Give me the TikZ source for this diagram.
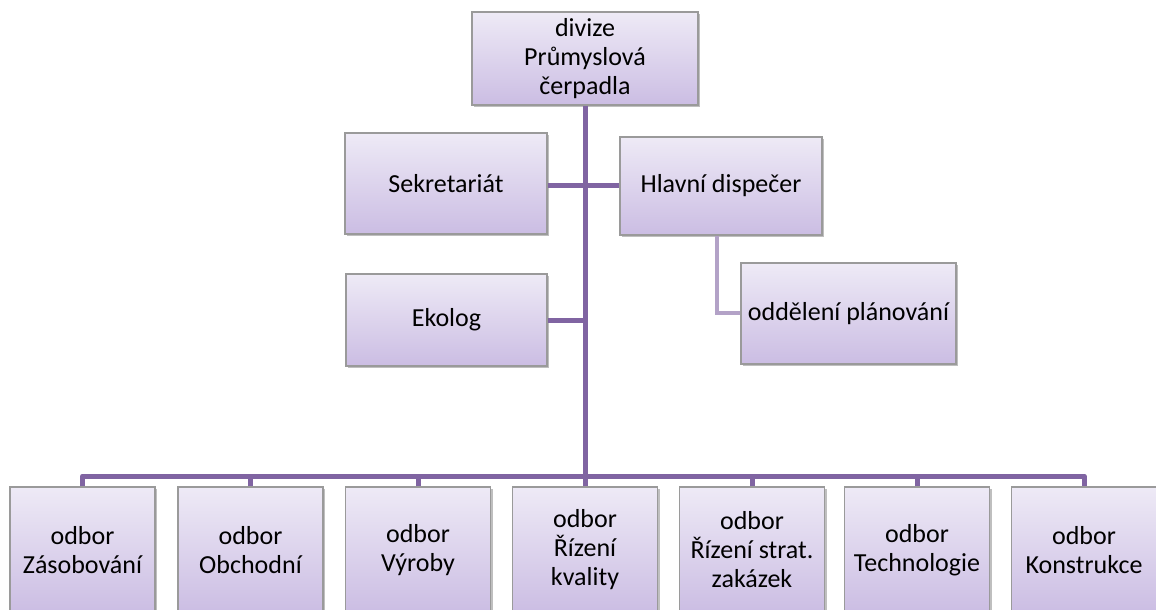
\documentclass[tikz,border=0pt]{standalone}
\usepackage{fontspec}
\setmainfont{Carlito}
\usetikzlibrary{shadows}
\definecolor{linec}{HTML}{8064A2}
\definecolor{linel}{HTML}{B3A2C7}
\definecolor{boxtop}{HTML}{EEEAF6}
\definecolor{boxbot}{HTML}{CBBDE3}
\definecolor{boxdraw}{HTML}{9A9A9A}
\tikzset{
  orgbox/.style={rectangle, draw=boxdraw, line width=1.2pt, top color=boxtop, bottom color=boxbot,
    align=center, inner sep=2pt, font=\fontsize{26}{29}\selectfont,
    drop shadow={shadow xshift=2pt, shadow yshift=-2pt, fill=black, opacity=0.25}},
  conn/.style={draw=linec, line width=5pt},
  connl/.style={draw=linel, line width=4pt},
}
\begin{document}
\begin{tikzpicture}[x=1pt,y=-1pt]
\useasboundingbox (0,0) rectangle (1156,610);
\begin{scope}
\clip (0,0) rectangle (1156,610);
\coordinate (cross) at (585,185);
\coordinate (eko) at (585,320);
\coordinate (bus) at (585,476);
\node[orgbox, minimum width=226pt, minimum height=93pt] (top) at (585,58.5) {divize\\Průmyslová\\čerpadla};
\node[orgbox, minimum width=202pt, minimum height=101pt] (sek) at (446,183.5) {Sekretariát};
\node[orgbox, minimum width=202pt, minimum height=98pt] (hd) at (721,186) {Hlavní dispečer};
\node[orgbox, minimum width=215pt, minimum height=101pt] (odd) at (848.5,313.5) {oddělení plánování};
\node[orgbox, minimum width=201pt, minimum height=92pt] (ek) at (446.5,320) {Ekolog};
\foreach \n/\cx/\t in {b1/82.5/{odbor\\Zásobování}, b2/250.5/{odbor\\Obchodní}, b3/418/{odbor\\Výroby},
  b4/585/{odbor\\Řízení\\kvality}, b5/752/{odbor\\Řízení strat.\\zakázek}, b6/917/{odbor\\Technologie}, b7/1084/{odbor\\Konstrukce}}
  \node[orgbox, minimum width=145pt, minimum height=126pt] (\n) at (\cx,550) {\t};
\end{scope}
% connectors
\draw[conn] (top.south) -- (bus);
\draw[conn] (sek.east |- cross) -- (hd.west |- cross);
\draw[conn] (ek.east |- eko) -- (eko);
\draw[connl] (717,0 |- hd.south) -- (717,313) -- (odd.west |- 0,313);
\draw[conn, line join=round] (b1.north) -- (b1.north |- bus) -- (b7.north |- bus) -- (b7.north);
\foreach \n in {b2,b3,b4,b5,b6} \draw[conn] (\n.north) -- (\n.north |- bus);
\end{tikzpicture}
\end{document}
